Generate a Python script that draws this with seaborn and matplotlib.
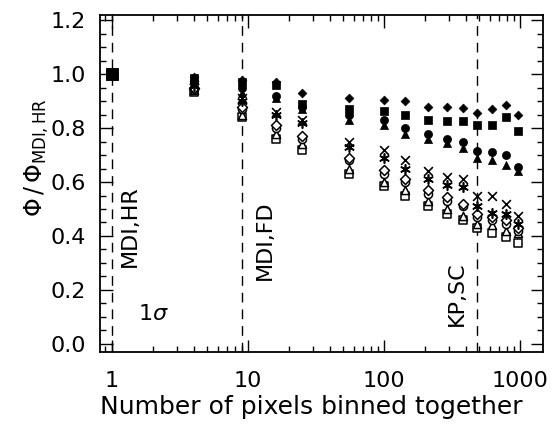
import matplotlib
matplotlib.use("Agg")
import matplotlib.pyplot as plt
import matplotlib.ticker as mticker
import seaborn as sns

# number of pixels binned together (x positions of the columns)
x_bins = [1, 4, 9, 16, 25, 55, 100, 144, 210, 289, 380, 484, 625, 784, 961]

# flux ratio per series
filled_diamond = [1.0, 0.99, 0.98, 0.97, 0.93, 0.91, 0.905, 0.90, 0.88, 0.88, 0.875, 0.855, 0.87, 0.885, 0.85]
filled_square = [1.0, 0.985, 0.97, 0.96, 0.89, 0.87, 0.865, 0.85, 0.83, 0.825, 0.825, 0.81, 0.81, 0.84, 0.79]
filled_circle = [1.0, 0.975, 0.95, 0.92, 0.88, 0.85, 0.83, 0.80, 0.78, 0.76, 0.75, 0.715, 0.71, 0.70, 0.655]
filled_triangle = [1.0, 0.97, 0.93, 0.91, 0.87, 0.83, 0.81, 0.78, 0.76, 0.745, 0.725, 0.69, 0.68, 0.665, 0.64]
cross = [1.0, 0.96, 0.91, 0.86, 0.83, 0.75, 0.72, 0.68, 0.64, 0.62, 0.61, 0.55, 0.55, 0.52, 0.475]
asterisk = [1.0, 0.955, 0.90, 0.85, 0.82, 0.73, 0.69, 0.65, 0.61, 0.59, 0.58, 0.51, 0.485, 0.48, 0.445]
open_diamond = [1.0, 0.95, 0.88, 0.81, 0.77, 0.69, 0.645, 0.61, 0.57, 0.545, 0.52, 0.48, 0.47, 0.46, 0.43]
open_circle = [1.0, 0.945, 0.87, 0.80, 0.76, 0.68, 0.63, 0.60, 0.555, 0.53, 0.51, 0.47, 0.46, 0.445, 0.42]
open_triangle = [1.0, 0.94, 0.85, 0.78, 0.74, 0.65, 0.60, 0.57, 0.53, 0.50, 0.475, 0.445, 0.44, 0.42, 0.41]
open_square = [1.0, 0.935, 0.84, 0.76, 0.72, 0.63, 0.585, 0.55, 0.51, 0.48, 0.46, 0.43, 0.41, 0.395, 0.375]

# resolution marks (vertical dashed lines) and their labels
res_x = [1, 9, 484]
res_labels = ["MDI,HR", "MDI,FD", "KP,SC"]
res_label_x = [1.15, 11.2, 290]
res_label_y = [0.285, 0.237, 0.066]

sns.set_style("ticks")
plt.rcParams["font.family"] = ["DejaVu Sans"]
plt.rcParams["mathtext.fontset"] = "dejavusans"
plt.rcParams["text.color"] = "black"
plt.rcParams["axes.labelcolor"] = "black"

fig = plt.figure(figsize=(5.52, 4.25), dpi=100)
ax = fig.add_axes([0.181, 0.172, 0.803, 0.793])

# (values, marker, filled, size, linewidth) - open ones first so filled sit on top
series = [
    (open_square, "s", False, 34, 1.1),
    (open_triangle, "^", False, 34, 1.1),
    (open_circle, "o", False, 34, 1.1),
    (open_diamond, "D", False, 26, 1.1),
    (asterisk, (6, 2, 0), None, 45, 1.2),
    (cross, "x", None, 40, 1.2),
    (filled_triangle, "^", True, 34, 0.5),
    (filled_circle, "o", True, 34, 0.5),
    (filled_square, "s", True, 34, 0.5),
    (filled_diamond, "D", True, 20, 0.5),
]
for vals, mk, filled, s, lw in series:
    if filled is None:
        sns.scatterplot(x=x_bins, y=vals, ax=ax, marker=mk, s=s, color="black",
                        linewidth=lw, zorder=3)
    elif filled:
        sns.scatterplot(x=x_bins, y=vals, ax=ax, marker=mk, s=s, color="black",
                        edgecolor="black", linewidth=lw, zorder=4)
    else:
        sns.scatterplot(x=x_bins, y=vals, ax=ax, marker=mk, s=s, facecolor="white",
                        edgecolor="black", linewidth=lw, zorder=3)

# the single reference point at 1 pixel
sns.scatterplot(x=x_bins[:1], y=filled_square[:1], ax=ax, marker="s", s=70,
                color="black", edgecolor="black", zorder=5)

for xv, lab, lx, ly in zip(res_x, res_labels, res_label_x, res_label_y):
    ax.axvline(xv, color="black", lw=1.0, ls=(0, (7, 5)), zorder=1)
    ax.text(lx, ly, lab, rotation=90, ha="left", va="bottom", fontsize=16)

ax.text(1.55, 0.073, r"1$\sigma$", ha="left", va="bottom", fontsize=16)

ax.set_xscale("log")
ax.set_xlim(0.82, 1480)
ax.set_ylim(-0.03, 1.22)
ax.set_xticks([1, 10, 100, 1000])
ax.xaxis.set_major_formatter(mticker.FuncFormatter(lambda v, p: f"{v:g}"))
ax.xaxis.set_minor_locator(mticker.LogLocator(base=10, subs=range(2, 10)))
ax.xaxis.set_minor_formatter(mticker.NullFormatter())
ax.set_yticks([0.0, 0.2, 0.4, 0.6, 0.8, 1.0, 1.2])
ax.yaxis.set_major_formatter(mticker.FormatStrFormatter("%.1f"))
ax.yaxis.set_minor_locator(mticker.MultipleLocator(0.05))

ax.tick_params(which="both", direction="in", top=True, right=True, width=1.0,
               colors="black", labelcolor="black")
ax.tick_params(which="major", length=9, labelsize=16, pad=10)
ax.tick_params(axis="x", which="major", pad=14)
ax.tick_params(which="minor", length=4.5)
for sp in ax.spines.values():
    sp.set_linewidth(1.3)
    sp.set_color("black")

ax.set_xlabel("Number of pixels binned together", fontsize=18)
ax.xaxis.set_label_coords(0.476, -0.128)
ax.set_ylabel(r"$\Phi\,/\,\Phi_{\rm MDI,HR}$", fontsize=17)
ax.yaxis.set_label_coords(-0.11, 0.576)

fig.savefig("out.png", dpi=100)
plt.close(fig)
